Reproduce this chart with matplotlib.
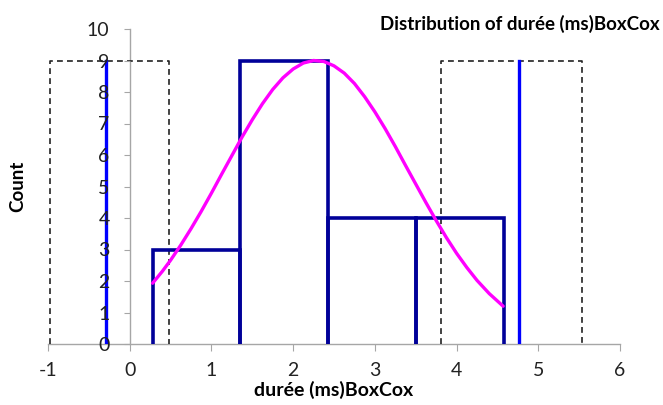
import matplotlib
matplotlib.use("Agg")
import matplotlib.pyplot as plt

# histogramme (bornes des classes et effectifs)
bin_edges = [0.28, 1.35, 2.43, 3.50, 4.58]
counts = [3, 9, 4, 4]

# courbe normale
curve_x = [0.28, 0.4, 0.5, 0.625, 0.75, 0.875, 1.0, 1.125, 1.25, 1.375, 1.5, 1.625, 1.75,
           1.875, 2.0, 2.125, 2.25, 2.375, 2.5, 2.625, 2.75, 2.875, 3.0, 3.125, 3.25,
           3.375, 3.5, 3.625, 3.75, 3.875, 4.0, 4.125, 4.25, 4.4, 4.57]
curve_y = [1.93, 2.31, 2.66, 3.14, 3.66, 4.21, 4.79, 5.39, 5.98, 6.57, 7.12, 7.63, 8.08,
           8.45, 8.73, 8.92, 9.0, 8.97, 8.83, 8.60, 8.27, 7.85, 7.37, 6.84, 6.27,
           5.67, 5.08, 4.49, 3.92, 3.38, 2.88, 2.43, 2.02, 1.60, 1.20]

# cadres pointillés et lignes bleues
box_left = [-0.97, 0.48]
box_right = [3.81, 5.53]
box_height = 9
blue_lines = [-0.29, 4.77]

xticks = [-1, 0, 1, 2, 3, 4, 5, 6]
yticks = list(range(0, 11))

plt.rcParams['font.family'] = ['Lato', 'DejaVu Sans']
plt.rcParams['axes.unicode_minus'] = False

fig = plt.figure(figsize=(6.63, 4.05), dpi=100)
ax = fig.add_axes([48 / 663, 1 - 344 / 405, (620 - 48) / 663, (344 - 29) / 405])

# cadres pointillés
for x0, x1 in [box_left, box_right]:
    ax.plot([x0, x0, x1, x1], [0, box_height, box_height, 0], color="#222222",
            linestyle=(0, (3.5, 2.5)), linewidth=1.2, zorder=1)

# barres du histogramme (contour seulement)
for i, c in enumerate(counts):
    l, r = bin_edges[i], bin_edges[i + 1]
    ax.plot([l, l, r, r], [0, c, c, 0], color="#000099", linewidth=2.6,
            solid_joinstyle="miter", zorder=2)

# lignes bleues
for xb in blue_lines:
    ax.plot([xb, xb], [0, box_height], color="#0000FF", linewidth=2.4, zorder=2)

# courbe
ax.plot(curve_x, curve_y, color="#FF00FF", linewidth=2.4, zorder=3,
        solid_joinstyle="round", solid_capstyle="round")

ax.set_xlim(-1, 6)
ax.set_ylim(0, 10)
ax.set_xticks(xticks)
ax.set_yticks(yticks)
ax.set_axisbelow(False)

for s in ["top", "right"]:
    ax.spines[s].set_visible(False)
ax.spines["left"].set_position(("data", 0))
ax.spines["bottom"].set_position(("data", 0))
for s in ["left", "bottom"]:
    ax.spines[s].set_color("#A6A6A6")
    ax.spines[s].set_linewidth(1.0)
    ax.spines[s].set_zorder(0.5)

ax.tick_params(axis="y", direction="out", length=4.5, color="#A6A6A6", pad=10,
               labelsize=14, labelcolor="#222222")
ax.tick_params(axis="x", direction="out", length=5, color="#A6A6A6", pad=8,
               labelsize=14, labelcolor="#222222")

ax.set_xlabel("durée (ms)BoxCox", fontsize=14, fontweight="bold", labelpad=1)
fig.text(18 / 663, 1 - 186 / 405, "Count", rotation=90, fontsize=13.5, fontweight="bold",
         ha="center", va="center")
fig.text(660 / 663, 1 - 24 / 405, "Distribution of durée (ms)BoxCox", fontsize=13.5,
         fontweight="bold", ha="right", va="center")

fig.savefig("out.png", dpi=100)
